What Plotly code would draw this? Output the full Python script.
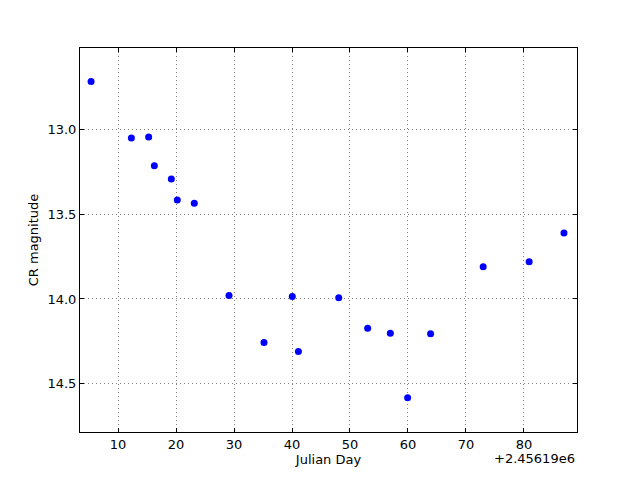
import plotly.graph_objects as go

jd_offset = 2.45619e6
julian_day = [5.35, 12.3, 15.28, 16.26, 19.19, 20.22, 23.15, 29.14, 35.17, 40.05,
              41.1, 48.06, 53.05, 56.96, 59.94, 63.9, 72.97, 80.9, 86.9]
cr_mag = [12.715, 13.049, 13.043, 13.213, 13.291, 13.415, 13.435, 13.98, 14.257, 13.986,
          14.31, 13.992, 14.173, 14.202, 14.584, 14.206, 13.81, 13.78, 13.61]
x_ticks = [10, 20, 30, 40, 50, 60, 70, 80]
y_ticks = [13.0, 13.5, 14.0, 14.5]

fig = go.Figure()
fig.add_trace(go.Scatter(x=julian_day, y=cr_mag, mode="markers",
                         marker=dict(color="#0000ff", size=7, line=dict(width=0))))

font = dict(family="DejaVu Sans", size=13, color="black")
axis_common = dict(showline=True, linecolor="black", linewidth=1, mirror="ticks",
                   ticks="inside", ticklen=4, tickcolor="black", showgrid=True,
                   gridcolor="#808080", griddash="1px,3px", gridwidth=1, zeroline=False,
                   tickfont=font)
fig.update_xaxes(range=[3.44, 89.15], tickvals=x_ticks,
                 ticktext=[str(t) for t in x_ticks],
                 title=dict(text="Julian Day", font=font, standoff=0), **axis_common)
fig.update_yaxes(range=[14.786, 12.517], tickvals=y_ticks,
                 ticktext=[f"{t:.1f}" for t in y_ticks],
                 title=dict(text="CR magnitude", font=font, standoff=5), **axis_common)
fig.add_annotation(text="+2.45619e6", xref="paper", yref="paper", x=1.0, y=-0.045,
                   xanchor="right", yanchor="top", showarrow=False, font=font)
fig.update_layout(width=640, height=480, margin=dict(l=72, r=71, t=40, b=56),
                  plot_bgcolor="white", paper_bgcolor="white", showlegend=False)
fig.write_html("out.html")
